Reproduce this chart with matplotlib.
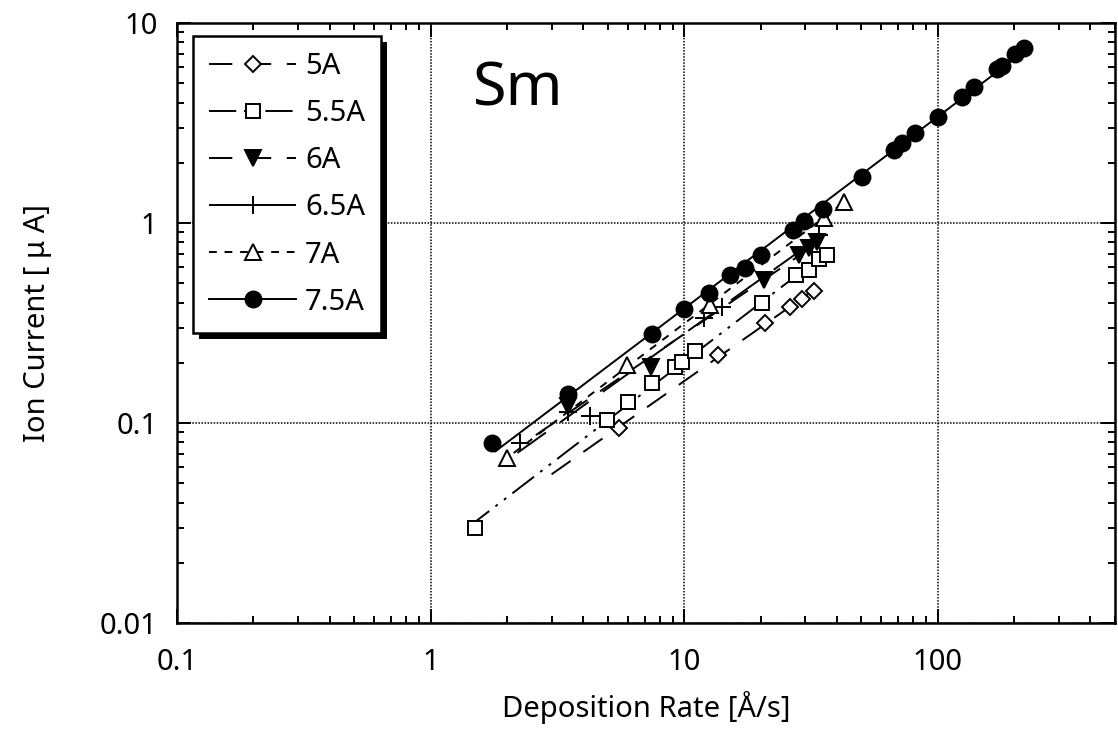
import numpy as np
import matplotlib
matplotlib.use("Agg")
import matplotlib.pyplot as plt
from matplotlib.ticker import FuncFormatter, LogLocator
from matplotlib.patches import Rectangle

plt.rcParams['font.family'] = ['Noto Sans', 'DejaVu Sans']

# deposition rate [A/s] and ion current [uA] for each filament current
rate_5a = [5.52, 13.6, 20.9, 26.2, 29.2, 32.4]
cur_5a = [0.094, 0.219, 0.315, 0.382, 0.415, 0.459]

rate_55a = [1.5, 4.97, 6.0, 7.48, 9.24, 9.82, 11.0, 20.3, 27.5, 31.0, 33.9, 36.6]
cur_55a = [0.030, 0.103, 0.128, 0.159, 0.191, 0.203, 0.23, 0.40, 0.55, 0.582, 0.658, 0.692]

rate_6a = [3.48, 7.41, 20.6, 28.3, 31.0, 33.4]
cur_6a = [0.121, 0.191, 0.519, 0.692, 0.747, 0.807]

rate_65a = [2.26, 3.48, 4.27, 11.95, 14.1, 32.0, 33.9]
cur_65a = [0.079, 0.114, 0.108, 0.334, 0.379, 0.80, 0.871]

rate_7a = [2.01, 5.96, 12.7, 35.5, 42.6]
cur_7a = [0.0666, 0.195, 0.389, 1.055, 1.28]

rate_75a = [1.74, 3.48, 7.48, 9.97, 12.5, 15.2, 17.3, 20.0, 26.9, 29.6, 35.2,
            50.3, 67.0, 72.3, 81.6, 100, 124.7, 139.4, 171.3, 179.2, 202.3, 218]
cur_75a = [0.0797, 0.1396, 0.2776, 0.372, 0.445, 0.55, 0.593, 0.692, 0.923, 1.027, 1.18,
           1.70, 2.32, 2.50, 2.81, 3.38, 4.28, 4.77, 5.87, 6.10, 7.0, 7.47]

labels = ['5A', '5.5A', '6A', '6.5A', '7A', '7.5A']
fit_ranges = [(3.0, 33), (1.4, 37), (2.6, 34), (2.2, 35), (1.9, 43), (1.8, 220)]

series = [
    (rate_5a, cur_5a, dict(marker='D', ms=8, mfc='white', dashes=(12, 8))),
    (rate_55a, cur_55a, dict(marker='s', ms=10, mfc='white', dashes=(14, 4, 1.5, 4, 1.5, 4))),
    (rate_6a, cur_6a, dict(marker='v', ms=11, mfc='black', dashes=(12, 8))),
    (rate_65a, cur_65a, dict(marker='+', ms=13, mfc='black', dashes=(18, 9))),
    (rate_7a, cur_7a, dict(marker='^', ms=11, mfc='white', dashes=(4, 4))),
    (rate_75a, cur_75a, dict(marker='o', ms=11.5, mfc='black', ls='-')),
]

fig = plt.figure(figsize=(11.18, 7.43), dpi=100)
ax = fig.add_axes([177 / 1118, 1 - 623 / 743, 938 / 1118, 600 / 743])

for (x, y, style), lab, (lo, hi) in zip(series, labels, fit_ranges):
    # power-law fit line through each data set
    k, b = np.polyfit(np.log10(x), np.log10(y), 1)
    xf = np.array([lo, hi])
    yf = 10 ** (k * np.log10(xf) + b)
    line_kw = {kk: v for kk, v in style.items() if kk in ('dashes', 'ls')}
    ax.plot(xf, yf, color='black', lw=1.4, **line_kw)
    ax.plot(x, y, ls='none', marker=style['marker'], ms=style['ms'],
            mfc=style['mfc'], mec='black', mew=1.4)
    # proxy for legend
    ax.plot([], [], color='black', lw=1.4, marker=style['marker'], ms=style['ms'],
            mfc=style['mfc'], mec='black', mew=1.4, label=lab, **line_kw)

ax.set_xscale('log')
ax.set_yscale('log')
ax.set_xlim(0.1, 500)
ax.set_ylim(0.01, 10)

fmt = FuncFormatter(lambda v, p: '{:g}'.format(v))
ax.xaxis.set_major_formatter(fmt)
ax.yaxis.set_major_formatter(fmt)
ax.xaxis.set_minor_locator(LogLocator(base=10, subs=np.arange(2, 10)))
ax.yaxis.set_minor_locator(LogLocator(base=10, subs=np.arange(2, 10)))
ax.tick_params(which='both', direction='in', top=True, right=True, width=1.4)
ax.tick_params(which='major', length=10, labelsize=21)
ax.tick_params(axis='x', which='major', pad=18)
ax.tick_params(axis='y', which='major', pad=14)
ax.tick_params(which='minor', length=5, labelbottom=False, labelleft=False)
for s in ax.spines.values():
    s.set_linewidth(1.8)

ax.grid(True, which='major', color='black', ls=(0, (1, 1)), lw=1.1)

ax.set_xlabel('Deposition Rate [Å/s]', fontsize=21, labelpad=10)
ax.set_ylabel('Ion Current [ μ A]', fontsize=21, labelpad=34)

ax.text(0.364, 0.863, 'Sm', transform=ax.transAxes, fontsize=44,
        ha='center', va='baseline')

leg = ax.legend(loc='upper left', bbox_to_anchor=(0.017, 0.978), borderaxespad=0,
                fontsize=21, handlelength=3.0, handletextpad=0.3, labelspacing=0.62,
                borderpad=0.55, fancybox=False, framealpha=1, edgecolor='black')
leg.get_frame().set_linewidth(1.8)

# thick drop shadow behind the legend frame
fig.canvas.draw()
bb = leg.get_window_extent()
shadow = Rectangle((bb.x0 + 6, bb.y0 - 6), bb.width, bb.height, transform=None,
                   facecolor='black', edgecolor='none', zorder=4.9)
ax.add_artist(shadow)
leg.set_zorder(5)

fig.savefig('out.png', dpi=100)
